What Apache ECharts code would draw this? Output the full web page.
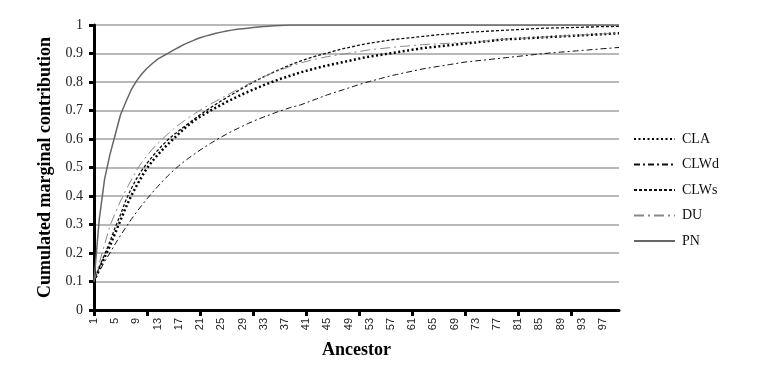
<!DOCTYPE html>
<html>
<head>
<meta charset="utf-8">
<script src="https://cdn.jsdelivr.net/npm/echarts@6/dist/echarts.min.js"></script>
<style>html,body{margin:0;padding:0;background:#fff;}#c{width:771px;height:371px;}</style>
</head>
<body>
<div id="c"></div>
<script>
var categories = [1,2,3,4,5,6,7,8,9,10,11,12,13,14,15,16,17,18,19,20,21,22,23,24,25,26,27,28,29,30,31,32,33,34,35,36,37,38,39,40,41,42,43,44,45,46,47,48,49,50,51,52,53,54,55,56,57,58,59,60,61,62,63,64,65,66,67,68,69,70,71,72,73,74,75,76,77,78,79,80,81,82,83,84,85,86,87,88,89,90,91,92,93,94,95,96,97,98,99,100];

var CLA = [0.100,0.145,0.185,0.225,0.270,0.315,0.360,0.400,0.435,0.468,
0.498,0.522,0.544,0.564,0.583,0.601,0.619,0.636,0.652,0.666,
0.678,0.689,0.700,0.710,0.720,0.730,0.739,0.748,0.757,0.765,
0.773,0.781,0.789,0.796,0.803,0.810,0.816,0.822,0.828,0.834,
0.839,0.844,0.849,0.854,0.858,0.862,0.866,0.870,0.874,0.878,
0.882,0.886,0.889,0.892,0.895,0.898,0.901,0.904,0.907,0.910,
0.913,0.916,0.919,0.921,0.923,0.925,0.927,0.929,0.931,0.933,
0.935,0.937,0.939,0.941,0.943,0.945,0.947,0.949,0.950,0.951,
0.952,0.953,0.954,0.955,0.956,0.957,0.958,0.959,0.960,0.961,
0.962,0.963,0.964,0.965,0.966,0.967,0.968,0.969,0.970,0.971];

var CLWd = [0.100,0.135,0.170,0.200,0.232,0.262,0.290,0.317,0.343,0.367,
0.390,0.412,0.433,0.453,0.472,0.490,0.506,0.521,0.535,0.548,
0.561,0.573,0.585,0.596,0.607,0.617,0.627,0.636,0.645,0.654,
0.662,0.670,0.677,0.684,0.691,0.698,0.704,0.710,0.715,0.720,
0.727,0.734,0.741,0.748,0.755,0.761,0.767,0.773,0.779,0.785,
0.791,0.797,0.802,0.807,0.812,0.817,0.822,0.826,0.830,0.834,
0.838,0.842,0.846,0.849,0.852,0.855,0.858,0.861,0.864,0.867,
0.870,0.872,0.874,0.876,0.878,0.880,0.882,0.884,0.886,0.888,
0.890,0.892,0.894,0.896,0.898,0.900,0.902,0.903,0.905,0.906,
0.908,0.909,0.911,0.912,0.914,0.915,0.917,0.918,0.920,0.921];

var CLWs = [0.100,0.150,0.195,0.240,0.290,0.335,0.385,0.425,0.460,0.490,
0.515,0.538,0.560,0.580,0.598,0.614,0.629,0.643,0.657,0.671,
0.685,0.698,0.710,0.722,0.734,0.745,0.756,0.767,0.778,0.789,
0.799,0.809,0.818,0.827,0.836,0.844,0.852,0.860,0.867,0.874,
0.880,0.886,0.892,0.897,0.902,0.907,0.912,0.917,0.921,0.925,
0.929,0.933,0.936,0.939,0.942,0.945,0.948,0.950,0.952,0.954,
0.956,0.958,0.960,0.962,0.964,0.966,0.967,0.969,0.970,0.972,
0.973,0.975,0.976,0.977,0.978,0.979,0.980,0.981,0.982,0.983,
0.984,0.985,0.986,0.987,0.988,0.989,0.989,0.990,0.990,0.991,
0.991,0.992,0.992,0.993,0.993,0.994,0.994,0.994,0.995,0.995];

var DU = [0.100,0.165,0.230,0.295,0.340,0.382,0.420,0.455,0.490,0.518,
0.542,0.564,0.584,0.602,0.619,0.635,0.650,0.664,0.677,0.689,
0.701,0.712,0.723,0.733,0.743,0.753,0.763,0.773,0.783,0.792,
0.801,0.810,0.818,0.826,0.834,0.841,0.848,0.855,0.861,0.867,
0.872,0.877,0.881,0.885,0.889,0.892,0.895,0.898,0.901,0.904,
0.907,0.910,0.913,0.915,0.917,0.919,0.921,0.923,0.925,0.926,
0.928,0.930,0.931,0.932,0.933,0.934,0.935,0.936,0.937,0.938,
0.939,0.940,0.941,0.942,0.944,0.946,0.948,0.950,0.951,0.952,
0.953,0.954,0.955,0.956,0.957,0.958,0.959,0.960,0.961,0.962,
0.963,0.964,0.965,0.966,0.967,0.968,0.969,0.970,0.971,0.972];

var PN = [0.100,0.320,0.460,0.545,0.615,0.685,0.730,0.772,0.803,0.828,
0.848,0.865,0.880,0.891,0.901,0.912,0.922,0.932,0.940,0.948,
0.955,0.961,0.966,0.971,0.975,0.979,0.982,0.985,0.987,0.989,
0.991,0.993,0.995,0.996,0.997,0.998,0.999,1,1,1,
1,1,1,1,1,1,1,1,1,1,
1,1,1,1,1,1,1,1,1,1,
1,1,1,1,1,1,1,1,1,1,
1,1,1,1,1,1,1,1,1,1,
1,1,1,1,1,1,1,1,1,1,
1,1,1,1,1,1,1,1,1,1];

var serif = '"Liberation Serif", "Times New Roman", serif';

function mk(name, data, color, width, type) {
  return {
    name: name, type: 'line', data: data, symbol: 'none', showSymbol: false, smooth: false,
    lineStyle: { color: color, width: width, type: type },
    itemStyle: { color: color },
    emphasis: { disabled: true },
    animation: false
  };
}

var chart = echarts.init(document.getElementById('c'), null, { renderer: 'canvas' });
chart.setOption({
  animation: false,
  backgroundColor: '#ffffff',
  grid: { left: 94, right: 152, top: 25, bottom: 61, containLabel: false },
  legend: {
    orient: 'vertical', left: 628, top: 127,
    itemWidth: 41, itemHeight: 14, itemGap: 11.5,
    itemStyle: { opacity: 0, borderWidth: 0 },
    textStyle: { fontFamily: serif, fontSize: 14, color: '#111', padding: [0, 0, 0, 2] },
    data: ['CLA', 'CLWd', 'CLWs', 'DU', 'PN']
  },
  xAxis: {
    type: 'category', data: categories, boundaryGap: false,
    name: 'Ancestor', nameLocation: 'middle', nameGap: 31,
    nameTextStyle: { fontFamily: serif, fontSize: 18, fontWeight: 'bold', color: '#000' },
    axisLine: { lineStyle: { color: '#000', width: 3 } },
    axisTick: { show: true, interval: 9, length: 6, lineStyle: { color: '#000', width: 3 } },
    axisLabel: { interval: 3, rotate: 90, margin: 8, fontFamily: '"Liberation Sans", Arial, sans-serif', fontSize: 11, color: '#222' },
    splitLine: { show: false }
  },
  yAxis: {
    type: 'value', min: 0, max: 1, interval: 0.1,
    name: 'Cumulated marginal contribution', nameLocation: 'middle', nameGap: 40, nameRotate: 90,
    nameTextStyle: { fontFamily: serif, fontSize: 18, fontWeight: 'bold', color: '#000' },
    axisLine: { show: true, lineStyle: { color: '#000', width: 3 } },
    axisTick: { show: true, length: 5, lineStyle: { color: '#000', width: 3 } },
    axisLabel: { margin: 11, fontFamily: serif, fontSize: 14, color: '#222' },
    splitLine: { show: true, lineStyle: { color: '#a0a0a0', width: 1.5 } }
  },
  series: [
    mk('CLA', CLA, '#000000', 2.5, [2, 2.5]),
    mk('CLWd', CLWd, '#111111', 1, [6, 3, 2, 3]),
    mk('CLWs', CLWs, '#111111', 1.3, [3, 2]),
    mk('DU', DU, '#888888', 1, [10, 4, 2, 4]),
    mk('PN', PN, '#666666', 1.5, 'solid')
  ]
});
</script>
</body>
</html>
